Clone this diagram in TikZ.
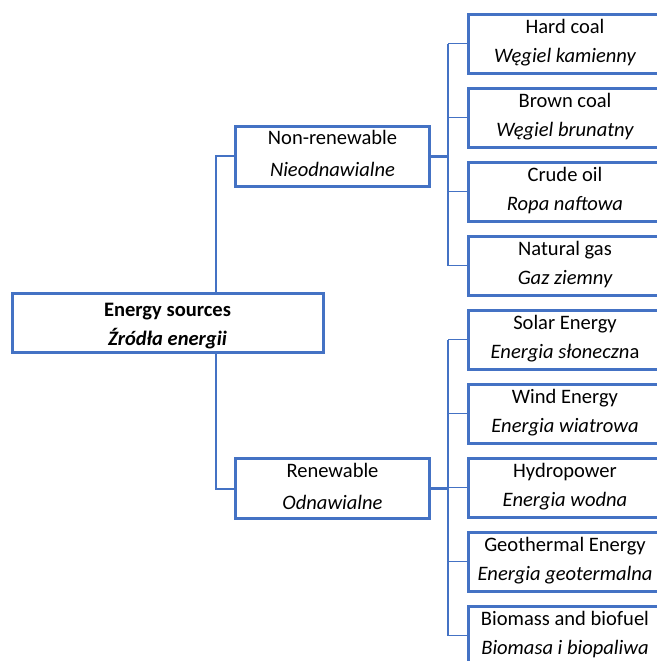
\documentclass[tikz,border=0pt]{standalone}
\usepackage{fontspec}
\setmainfont{Carlito}
\usetikzlibrary{calc}
\definecolor{obl}{HTML}{4472C4}
\tikzset{
  ebox/.style={draw=obl, line width=2.25pt, fill=white, inner sep=0pt, outer sep=0pt},
  rbox/.style={ebox, minimum width=145.5pt, minimum height=44.25pt},
  mbox/.style={ebox, minimum width=145.5pt, minimum height=45pt},
  lbl/.style={anchor=base, inner sep=0pt, font=\fontsize{15.4}{18}\selectfont},
  ilbl/.style={lbl, font=\fontsize{15.4}{18}\selectfont\itshape},
  conn/.style={draw=obl, line width=1.5pt},
  bconn/.style={draw=obl, line width=1.1pt},
  tconn/.style={draw=obl, line width=2.25pt},
}
\begin{document}
\begin{tikzpicture}[x=0.75pt, y=-0.75pt]
\useasboundingbox (0,0) rectangle (657,661);
\clip (0,0) rectangle (657,661);
% root
\node[ebox, minimum width=233.25pt, minimum height=44.25pt] (root) at (167.5,322.5) {};
\node[lbl, font=\fontsize{15.4}{18}\selectfont\bfseries] (rootA) at ($(root.north)+(0,23.5)$) {Energy sources};
\node[ilbl, font=\fontsize{15.4}{18}\selectfont\bfseries\itshape] (rootB) at ($(root.north)+(0,52.5)$) {Źródła energii};
% middle
\node[mbox] (nonren) at (332.5,156) {};
\node[lbl] (nonrenA) at ($(nonren.north)+(0,18.5)$) {Non-renewable};
\node[ilbl] (nonrenB) at ($(nonren.north)+(0,50.5)$) {Nieodnawialne};
\node[mbox] (ren) at (332.5,488.5) {};
\node[lbl] (renA) at ($(ren.north)+(0,18.5)$) {Renewable};
\node[ilbl] (renB) at ($(ren.north)+(0,50.5)$) {Odnawialne};
% right, non-renewable
\node[rbox] (hard) at (565,43.5) {};
\node[lbl] (hardA) at ($(hard.north)+(0,19.5)$) {Hard coal};
\node[ilbl] (hardB) at ($(hard.north)+(0,48.5)$) {Węgiel kamienny};
\node[rbox] (brown) at (565,117.5) {};
\node[lbl] (brownA) at ($(brown.north)+(0,19.5)$) {Brown coal};
\node[ilbl] (brownB) at ($(brown.north)+(0,48.5)$) {Węgiel brunatny};
\node[rbox] (oil) at (565,191.5) {};
\node[lbl] (oilA) at ($(oil.north)+(0,19.5)$) {Crude oil};
\node[ilbl] (oilB) at ($(oil.north)+(0,48.5)$) {Ropa naftowa};
\node[rbox] (gas) at (565,265.5) {};
\node[lbl] (gasA) at ($(gas.north)+(0,19.5)$) {Natural gas};
\node[ilbl] (gasB) at ($(gas.north)+(0,48.5)$) {Gaz ziemny};
% right, renewable
\node[rbox] (solar) at (565,339.5) {};
\node[lbl] (solarA) at ($(solar.north)+(0,19.5)$) {Solar Energy};
\node[ilbl] (solarB) at ($(solar.north)+(0,48.5)$) {Energia słoneczn{\upshape a}};
\node[rbox] (wind) at (565,413.5) {};
\node[lbl] (windA) at ($(wind.north)+(0,19.5)$) {Wind Energy};
\node[ilbl] (windB) at ($(wind.north)+(0,48.5)$) {Energia wiatrowa};
\node[rbox] (hydro) at (565,487.5) {};
\node[lbl] (hydroA) at ($(hydro.north)+(0,19.5)$) {Hydropower};
\node[ilbl] (hydroB) at ($(hydro.north)+(0,48.5)$) {Energia wodna};
\node[rbox] (geo) at (565,561.5) {};
\node[lbl] (geoA) at ($(geo.north)+(0,19.5)$) {Geothermal Energy};
\node[ilbl] (geoB) at ($(geo.north)+(0,48.5)$) {Energia geotermalna};
\node[rbox] (bio) at (565,635.5) {};
\node[lbl] (bioA) at ($(bio.north)+(0,19.5)$) {Biomass and biofuel};
\node[ilbl] (bioB) at ($(bio.north)+(0,48.5)$) {Biomasa i biopaliwa};
% connectors
\coordinate (tr) at (216,0);
\coordinate (bus) at (448,0);
\draw[conn] (root.north -| tr) |- (nonren.west);
\draw[conn] (root.south -| tr) |- (ren.west);
\draw[tconn] (nonren.east) -- (nonren.east -| bus);
\draw[tconn] (ren.east) -- (ren.east -| bus);
\draw[bconn] (bus |- hard.west) -- (bus |- gas.west);
\draw[bconn] (bus |- solar.west) -- (bus |- bio.west);
\foreach \n in {hard,brown,oil,gas,solar,wind,hydro,geo,bio}
  \draw[bconn] (bus |- \n.west) -- (\n.west);
\end{tikzpicture}
\end{document}
